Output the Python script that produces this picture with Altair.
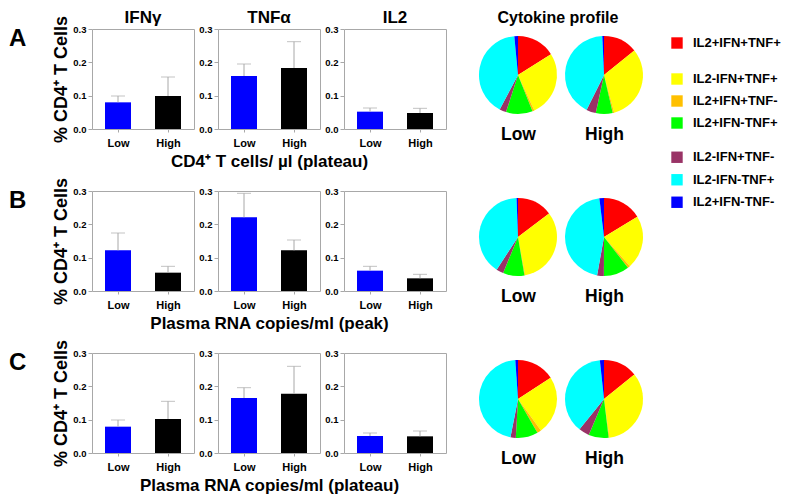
import altair as alt
import pandas as pd

FONT = "Liberation Sans"

groups = ["Low", "High"]
group_colors = ["#0000FF", "#000000"]
cytokines = ["IFNγ", "TNFα", "IL2"]
pie_title = "Cytokine profile"
row_labels = ["A", "B", "C"]
x_titles = ["CD4⁺ T cells/ µl (plateau)",
            "Plasma RNA copies/ml (peak)",
            "Plasma RNA copies/ml (plateau)"]
y_title = "% CD4⁺ T Cells"
y_ticks = [0.0, 0.1, 0.2, 0.3]

# bar heights [Low, High] per cytokine (IFNγ, TNFα, IL2)
A_means = [[0.080, 0.099], [0.159, 0.183], [0.052, 0.048]]
A_upper = [[0.099, 0.156], [0.195, 0.262], [0.063, 0.062]]
B_means = [[0.122, 0.055], [0.221, 0.122], [0.061, 0.038]]
B_upper = [[0.174, 0.074], [0.293, 0.153], [0.074, 0.050]]
C_means = [[0.079, 0.102], [0.165, 0.178], [0.051, 0.050]]
C_upper = [[0.099, 0.155], [0.196, 0.260], [0.060, 0.066]]
means = [A_means, B_means, C_means]
uppers = [A_upper, B_upper, C_upper]

profiles = ["IL2+IFN+TNF+", "IL2-IFN+TNF+", "IL2+IFN+TNF-", "IL2+IFN-TNF+",
            "IL2-IFN+TNF-", "IL2-IFN-TNF+", "IL2+IFN-TNF-"]
profile_colors = ["#FF0000", "#FFFF00", "#FFC000", "#00FF00",
                  "#993366", "#00FFFF", "#0000FF"]
legend_groups = [profiles[0:1], profiles[1:4], profiles[4:7]]
legend_ranges = [[3, 25], [39, 105], [117, 184.5]]

# percentage of each profile (same order as profiles)
A_low = [16.0, 27.0, 0.8, 11.0, 2.8, 40.6, 1.5]
A_high = [14.2, 31.7, 0.6, 7.0, 4.0, 42.0, 0.7]
B_low = [14.7, 32.5, 0.3, 8.9, 3.0, 40.3, 0.6]
B_high = [16.3, 22.2, 1.0, 10.6, 2.8, 45.3, 1.9]
C_low = [15.8, 24.2, 1.7, 9.2, 2.2, 45.8, 1.1]
C_high = [14.2, 33.6, 0.3, 8.3, 4.4, 37.5, 1.7]
pies_data = [[A_low, A_high], [B_low, B_high], [C_low, C_high]]

color_scale = alt.Scale(domain=groups + profiles, range=group_colors + profile_colors)
GRAY = "#a8a8a8"


def label_layer(text, size, xpos, ypos, align="center"):
    return alt.Chart(pd.DataFrame({"t": [text]})).mark_text(
        font=FONT, fontSize=size, fontWeight="bold", align=align, baseline="middle",
        color="#000").encode(text="t:N", x=alt.value(xpos), y=alt.value(ypos))


def bar_panel(r, c):
    df = pd.DataFrame({"group": groups, "mean": means[r][c], "upper": uppers[r][c]})
    xaxis_kw = dict(labelFont=FONT, labelFontSize=11, labelFontWeight="bold", labelAngle=0,
                    labelColor="#000", tickSize=3, tickColor=GRAY, labelPadding=5,
                    domain=False)
    if c == 1:
        xaxis_kw.update(title=x_titles[r], titleFont=FONT, titleFontSize=17,
                        titleFontWeight="bold", titlePadding=5, titleColor="#000")
    else:
        xaxis_kw.update(title=None)
    xscale = alt.Scale(type="point", padding=0.52)
    xaxis = alt.Axis(**xaxis_kw)
    x = alt.X("group:N", sort=groups, scale=xscale, axis=xaxis)
    yaxis_kw = dict(values=y_ticks, format=".1f", labelFont=FONT, labelFontSize=9.5,
                    labelFontWeight="bold", labelColor="#000", tickSize=4, tickColor=GRAY,
                    labelPadding=2, labelOverlap=False, domain=False, grid=False)
    if c == 0:
        yaxis_kw.update(title=y_title, titleFont=FONT, titleFontSize=18,
                        titleFontWeight="bold", titlePadding=2, titleColor="#000")
    else:
        yaxis_kw.update(title=None)
    yscale = alt.Scale(domain=[0, 0.3])
    yaxis = alt.Axis(**yaxis_kw)
    base = alt.Chart(df)
    bars = base.mark_bar(size=26).encode(
        x=x, y=alt.Y("mean:Q", scale=yscale, axis=yaxis),
        color=alt.Color("group:N", scale=color_scale, legend=None))
    err = base.mark_rule(color=GRAY, strokeWidth=1).encode(
        x=x, y=alt.Y("mean:Q", scale=yscale, axis=yaxis), y2="upper:Q")
    cap = base.mark_tick(color=GRAY, thickness=1, size=14).encode(
        x=x, y=alt.Y("upper:Q", scale=yscale, axis=yaxis))
    layers = [bars, err, cap]
    if c == 0:
        layers.append(label_layer(row_labels[r], 24, -83, 10, align="left"))
    if r == 0:
        layers.append(label_layer(cytokines[c], 17, 51, -11))
    return alt.layer(*layers).properties(
        width=102, height=100, view=alt.ViewBackground(stroke=GRAY))


def legend_group(items, rng):
    df = pd.DataFrame({"profile": items})
    y = alt.Y("profile:N", sort=items,
              scale=alt.Scale(type="point", padding=0.5, range=rng), axis=None)
    sq = alt.Chart(df).mark_square(size=130, opacity=1).encode(
        y=y, x=alt.value(207), color=alt.Color("profile:N", scale=color_scale, legend=None))
    tx = alt.Chart(df).mark_text(align="left", baseline="middle", font=FONT, fontSize=13,
                                 fontWeight="bold", color="#000").encode(
        y=y, x=alt.value(223), text="profile:N")
    return alt.layer(sq, tx)


def pie_pair(r):
    low, high = pies_data[r]
    df = pd.DataFrame({
        "group": [g for g in groups for _ in profiles],
        "profile": profiles * 2,
        "pct": low + high,
        "ord": list(range(len(profiles))) * 2,
    })
    base = alt.Chart(df).transform_joinaggregate(
        total="sum(pct)", groupby=["group"]
    ).transform_window(
        cum="sum(pct)", groupby=["group"], sort=[alt.SortField("ord")], frame=[None, 0]
    ).transform_calculate(
        t0="(datum.cum - datum.pct) / datum.total", t1="datum.cum / datum.total"
    )
    arcs = base.mark_arc(outerRadius=39).encode(
        x=alt.X("group:N", sort=groups, scale=alt.Scale(type="point", padding=0.558),
                axis=alt.Axis(title=None, labelFont=FONT, labelFontSize=17.5,
                              labelFontWeight="bold", labelColor="#000", labelAngle=0,
                              ticks=False, tickSize=0, domain=False, labelPadding=4)),
        theta=alt.Theta("t0:Q", scale=alt.Scale(domain=[0, 1]), stack=False),
        theta2="t1:Q",
        color=alt.Color("profile:N", scale=color_scale, legend=None),
    )
    props = dict(width=182, height=92, view=alt.ViewBackground(stroke="transparent"))
    if r == 0:
        leg = [legend_group(g, rg) for g, rg in zip(legend_groups, legend_ranges)]
        return alt.layer(arcs, label_layer(pie_title, 16, 88, -11), *leg).resolve_scale(
            y="independent").properties(**props)
    return arcs.properties(**props)


items = []
for r in range(3):
    for c in range(3):
        items.append(bar_panel(r, c))
    items.append(pie_pair(r))

chart = alt.concat(
    *items, columns=4, spacing={"row": 62, "column": 24}, bounds="flush"
).properties(padding=0).configure(font=FONT).configure_view(stroke="transparent")

chart.save("out.html", embed_options={"renderer": "svg", "actions": False})
